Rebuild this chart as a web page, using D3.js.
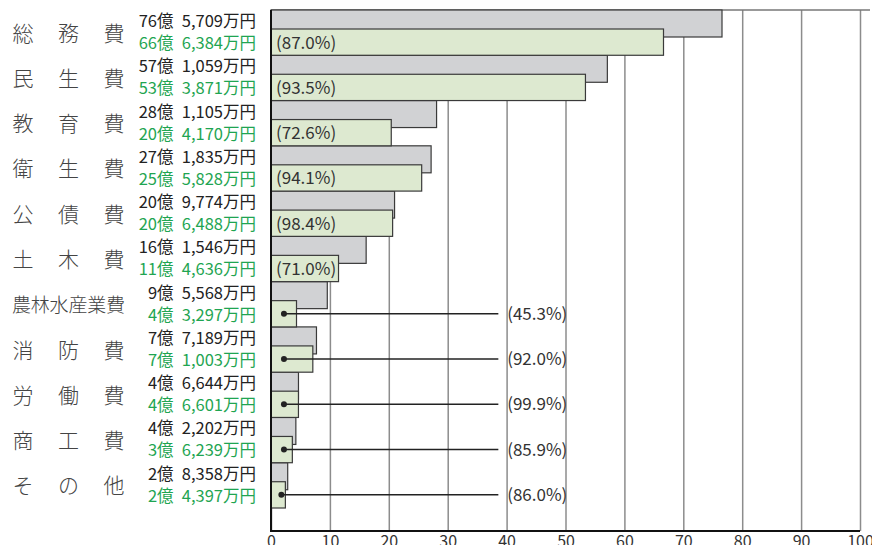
<!DOCTYPE html>
<html>
<head>
<meta charset="utf-8">
<script src="https://cdn.jsdelivr.net/npm/d3@7"></script>
<style>
  html, body { margin: 0; padding: 0; background: #fff; }
  svg { display: block; font-family: "Noto Sans CJK JP", "Noto Sans", sans-serif; }
</style>
</head>
<body>
<svg id="chart" width="872" height="545"></svg>
<script>
// 予算額と決算額（億円）
const categories = ["総務費", "民生費", "教育費", "衛生費", "公債費", "土木費", "農林水産業費", "消防費", "労働費", "商工費", "その他"];
const budget = [76.5709, 57.1059, 28.1105, 27.1835, 20.9774, 16.1546, 9.5568, 7.7189, 4.6644, 4.2202, 2.8358];
const actual = [66.6384, 53.3871, 20.4170, 25.5828, 20.6488, 11.4636, 4.3297, 7.1003, 4.6601, 3.6239, 2.4397];
const ratio = ["87.0", "93.5", "72.6", "94.1", "98.4", "71.0", "45.3", "92.0", "99.9", "85.9", "86.0"];
const tickValues = [0, 10, 20, 30, 40, 50, 60, 70, 80, 90, 100];

const svg = d3.select("#chart");
const green = "#1fa552";
const textColor = "#333";

const x = d3.scaleLinear().domain([0, 100]).range([271, 860]);
const y = d3.scaleBand().domain(categories).range([10, 508]).padding(0);
const bw = y.bandwidth();
const plotTop = 10, plotBottom = 531;

function fmtYen(v) {
  const total = Math.round(v * 10000);
  const oku = Math.floor(total / 10000);
  const man = total % 10000;
  return `${oku}億\u2002${d3.format(",")(man)}万円`;
}

const rows = categories.map((name, i) => ({
  name, i, budget: budget[i], actual: actual[i], ratio: ratio[i]
}));

// grid lines
svg.append("g")
  .attr("transform", `translate(0,${plotBottom})`)
  .call(d3.axisBottom(x).tickValues(tickValues).tickSize(-(plotBottom - plotTop)).tickFormat(""))
  .call((g) => g.select(".domain").remove())
  .call((g) => g.selectAll("line").attr("stroke", "#8c8c8c").attr("stroke-width", 1.5));

// top border
svg.append("line")
  .attr("x1", x(0)).attr("x2", 870)
  .attr("y1", plotTop).attr("y2", plotTop)
  .attr("stroke", "#777").attr("stroke-width", 1.5);

// budget bars
svg.append("g").selectAll("rect")
  .data(rows)
  .join("rect")
  .attr("x", x(0))
  .attr("y", (d) => y(d.name))
  .attr("width", (d) => x(d.budget) - x(0))
  .attr("height", 27)
  .attr("fill", "#d1d2d4")
  .attr("stroke", "#3a3a3a")
  .attr("stroke-width", 1.2);

// actual bars
svg.append("g").selectAll("rect")
  .data(rows)
  .join("rect")
  .attr("x", x(0))
  .attr("y", (d) => y(d.name) + 19)
  .attr("width", (d) => x(d.actual) - x(0))
  .attr("height", bw - 19)
  .attr("fill", "#dde9d0")
  .attr("stroke", "#3a3a3a")
  .attr("stroke-width", 1.2);

// axis lines
svg.append("line")
  .attr("x1", x(0)).attr("x2", x(0))
  .attr("y1", plotTop).attr("y2", plotBottom + 1)
  .attr("stroke", "#111").attr("stroke-width", 2);
svg.append("line")
  .attr("x1", x(0)).attr("x2", x(100))
  .attr("y1", plotBottom).attr("y2", plotBottom)
  .attr("stroke", "#111").attr("stroke-width", 2);

// tick labels
svg.append("g")
  .attr("transform", `translate(0,${plotBottom})`)
  .call(d3.axisBottom(x).tickValues(tickValues).tickSize(0).tickPadding(5))
  .call((g) => g.select(".domain").remove())
  .call((g) => g.selectAll("text")
    .attr("fill", textColor)
    .style("font-size", "16px")
    .style("font-family", "'Noto Sans CJK JP', sans-serif"));

// ratio labels
const inside = rows.filter((d) => d.i < 6);
const outside = rows.filter((d) => d.i >= 6);

svg.append("g").selectAll("text")
  .data(inside)
  .join("text")
  .attr("x", x(0) + 5)
  .attr("y", (d) => y(d.name) + 19 + (bw - 19) / 2 + 6.5)
  .attr("fill", textColor)
  .style("font-size", "17px")
  .text((d) => `(${d.ratio}%)`);

const leader = svg.append("g").selectAll("g")
  .data(outside)
  .join("g");

leader.append("line")
  .attr("x1", (d) => Math.min(x(2.2), x(d.actual) - 4))
  .attr("x2", x(38.6))
  .attr("y1", (d) => y(d.name) + 19 + (bw - 19) / 2)
  .attr("y2", (d) => y(d.name) + 19 + (bw - 19) / 2)
  .attr("stroke", "#222")
  .attr("stroke-width", 1.5);

leader.append("circle")
  .attr("cx", (d) => Math.min(x(2.2), x(d.actual) - 4))
  .attr("cy", (d) => y(d.name) + 19 + (bw - 19) / 2)
  .attr("r", 3)
  .attr("fill", "#222");

leader.append("text")
  .attr("x", x(40.1))
  .attr("y", (d) => y(d.name) + 19 + (bw - 19) / 2 + 6)
  .attr("fill", textColor)
  .style("font-size", "17px")
  .text((d) => `(${d.ratio}%)`);

// value labels
svg.append("g").selectAll("text")
  .data(rows)
  .join("text")
  .attr("x", 256)
  .attr("y", (d) => y(d.name) + 17)
  .attr("text-anchor", "end")
  .attr("fill", "#222")
  .style("font-size", "16.5px")
  .text((d) => fmtYen(d.budget));

svg.append("g").selectAll("text")
  .data(rows)
  .join("text")
  .attr("x", 256)
  .attr("y", (d) => y(d.name) + 39)
  .attr("text-anchor", "end")
  .attr("fill", green)
  .style("font-size", "16.5px")
  .text((d) => fmtYen(d.actual));

// category names, spread across the label column
const nameG = svg.append("g").selectAll("g")
  .data(rows)
  .join("g")
  .attr("transform", (d) => `translate(0,${y(d.name) + bw / 2 + 8})`);

nameG.each(function (d) {
  const g = d3.select(this);
  const chars = Array.from(d.name);
  if (chars.length === 3) {
    const cx = [23, 68.5, 114];
    chars.forEach((c, k) => {
      g.append("text")
        .attr("x", cx[k])
        .attr("text-anchor", "middle")
        .attr("fill", "#444")
        .style("font-size", "21px")
        .style("font-weight", 300)
        .text(c);
    });
  } else {
    g.append("text")
      .attr("x", 12)
      .attr("textLength", 113)
      .attr("lengthAdjust", "spacing")
      .attr("fill", "#444")
      .style("font-size", "19px")
      .style("font-weight", 300)
      .text(d.name);
  }
});
</script>
</body>
</html>
